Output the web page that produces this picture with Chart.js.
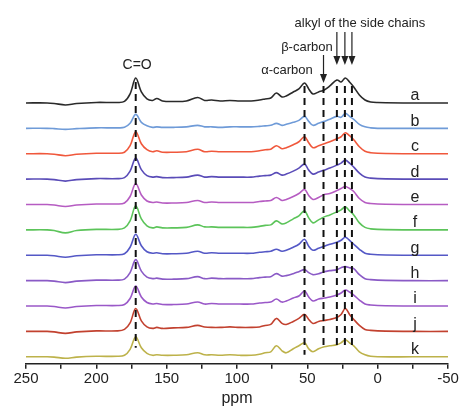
<!DOCTYPE html>
<html>
<head>
<meta charset="utf-8">
<script src="https://cdn.jsdelivr.net/npm/chart.js@4"></script>
<style>
    body { margin: 0; background: #fff; }
    #wrap { width: 460px; height: 410px; }
</style>
</head>
<body>
<div id="wrap"><canvas id="nmr-chart"></canvas></div>
<script>
// chemical shift grid (ppm), shared by every trace
const ppm = [250, 235, 230, 222, 214, 200, 185, 180, 176, 172, 168, 164, 160, 157, 153, 145, 136, 128, 123, 118, 112, 105, 98, 90, 84, 80, 76, 72, 68, 65, 60, 56, 52, 49, 46, 42, 38, 34, 29, 26, 23, 20, 17, 13, 9, 5, 0, -25, -50];

// intensities above each trace's own baseline
const seriesA = [0, 0, -0.5, -2, -0.5, 0.5, 0.5, 1.5, 9, 25, 11, 4, 2.5, 4.5, 2, 1.5, 2, 5.5, 2.5, 3, 2, 2.5, 2, 2, 3, 4, 5, 10, 6, 7, 11, 14, 20, 14, 9, 11, 13, 17, 23, 21, 25, 21, 16, 8, 3, 1, 0.5, 0, 0];
const seriesB = [0, 0, -0.3, -1, -0.3, 0.5, 0.5, 1, 5, 14, 6, 2.5, 1, 1.5, 1, 1, 1.5, 3, 1.5, 1.5, 1, 1.5, 1.5, 1.5, 2, 2.5, 3, 5, 3, 4, 6, 8, 12, 7, 3, 5, 7, 9, 12, 11, 15, 12, 9, 4, 1.5, 0.5, 0, 0, 0];
const seriesC = [0, 0, -0.5, -2, -0.5, 0.5, 0.5, 1.5, 8, 22, 10, 4, 2, 3, 1.5, 1.5, 2, 4.5, 2, 2.5, 2, 2, 2, 2, 3, 4, 4.5, 8, 5, 6, 9, 12, 17, 11, 6, 8, 10, 12, 15, 17, 21, 18, 14, 7, 2.5, 1, 0.5, 0, 0];
const seriesD = [0, 0, -0.5, -2, -0.5, 0.5, 0.5, 1.5, 8, 21, 9.5, 3.5, 2, 2.5, 1.5, 1.5, 2, 4, 2, 2.5, 2, 2, 2, 2, 3, 3.5, 4, 6.5, 4, 5, 8, 11, 15, 9, 5, 7, 9, 11, 14, 16, 19, 16, 12, 6, 2, 1, 0.5, 0, 0];
const seriesE = [0, 0, -0.5, -2, -0.5, 0.5, 0.5, 1.5, 8, 21, 9.5, 3.5, 2, 2.5, 1.5, 1.5, 2, 4, 2, 2.5, 2, 2, 2, 2, 3, 3.5, 4, 7, 4, 5, 8, 11, 15, 9, 5, 7, 10, 11, 14, 16, 18, 16, 13, 6, 2, 1, 0.5, 0, 0];
const seriesF = [0, 0, -0.7, -3, -0.7, 0.5, 0.5, 2, 9, 24, 11, 4, 2, 3, 2, 2, 2.5, 5, 3, 3, 2.5, 2.5, 2.5, 2.5, 3.5, 4.5, 5, 9, 6, 7, 11, 14, 19, 12, 7, 10, 13, 15, 18, 20, 23, 19, 15, 7, 2.5, 1, 0.5, 0, 0];
const seriesG = [0, 0, -0.5, -2, -0.5, 0.5, 0.5, 1.5, 8, 21, 9.5, 3.5, 2, 2.5, 1.5, 1.5, 2, 4, 2, 2.5, 2, 2, 2, 2, 3, 3.5, 4, 6, 4, 5, 8, 11, 16, 9, 5, 7, 9, 11, 13, 15, 18, 15, 11, 6, 2, 1, 0.5, 0, 0];
const seriesH = [0, 0, -0.5, -2, -0.5, 0.5, 0.5, 1.5, 8, 21, 9.5, 3.5, 2, 2.5, 1.5, 1.5, 2, 4, 2, 2.5, 2, 2, 2, 2, 3, 3.5, 4, 7, 4.5, 5, 7, 9, 11, 8, 6, 7, 9, 10, 11, 13, 14, 13, 12, 6, 2, 1, 0.5, 0, 0];
const seriesI = [0, 0, -0.5, -2, -0.5, 0.5, 0.5, 1.5, 7.5, 20, 9, 3.5, 2, 2.5, 1.5, 1.5, 2, 4, 2, 2.5, 2, 2, 2, 2, 3, 3.5, 4, 7, 4, 5, 8, 10, 15, 9, 5, 7, 8, 9, 11, 13, 16, 14, 11, 6, 2, 1, 0.5, 0, 0];
const seriesJ = [0, 0, -0.5, -2, -0.5, 0.5, 0.5, 2, 8.5, 23, 10.5, 4.5, 3, 4, 3, 3.5, 4, 6, 4.5, 4, 4, 4.5, 4, 4, 4.5, 6, 7, 13, 8, 7, 10, 13, 17, 12, 8, 10, 11, 12, 14, 17, 23, 17, 12, 6, 2, 1, 0.5, 0, 0];
const seriesK = [0, 0, -0.3, -1.5, -0.3, 0.5, 0.5, 1.5, 7.5, 20, 9, 3.5, 1.5, 2, 1.5, 1.5, 2, 4, 2, 2, 1.5, 2, 1.5, 1.5, 2.5, 4, 5, 11, 6, 4, 8, 11, 14, 8, 5, 8, 10, 11, 12, 14, 17, 14, 11, 5, 2, 0.5, 0, 0, 0];

const sampleLabels = ['a', 'b', 'c', 'd', 'e', 'f', 'g', 'h', 'i', 'j', 'k'];
const sampleSeries = [seriesA, seriesB, seriesC, seriesD, seriesE, seriesF, seriesG, seriesH, seriesI, seriesJ, seriesK];
const sampleColors = ['#2a2a2a', '#6f9bd8', '#f0583c', '#5a4cb8', '#b65cc2', '#5cc45a', '#5458c6', '#8a5ac6', '#9a58c8', '#c2412f', '#bdb24a'];

// marked peak positions (ppm)
const markerShifts = [172, 52, 38.5, 29, 23.3, 18.3];
const alkylShifts = [29, 23.3, 18.3];
const betaShift = 38.5;

const topBaseline = 261;
const traceGap = 25.4;

const datasets = [];

markerShifts.forEach((shift) => {
    const bottom = shift === 52 ? 9 : 16;
    datasets.push({
        data: [{ x: shift, y: shift === 172 ? 282 : 278 }, { x: shift, y: bottom }],
        borderColor: '#111',
        borderWidth: 2,
        borderDash: [7, 5],
        pointRadius: 0,
        order: 0
    });
});

sampleSeries.forEach((values, i) => {
    const base = topBaseline - i * traceGap;
    datasets.push({
        label: sampleLabels[i],
        data: ppm.map((p, j) => ({ x: p, y: base + values[j] })),
        borderColor: sampleColors[i],
        borderWidth: 1.6,
        pointRadius: 0,
        tension: 0.35,
        order: 1
    });
});

function arrow(ctx, x, y1, y2) {
    ctx.beginPath();
    ctx.moveTo(x, y1);
    ctx.lineTo(x, y2 - 7);
    ctx.stroke();
    ctx.beginPath();
    ctx.moveTo(x - 3.5, y2 - 9);
    ctx.lineTo(x + 3.5, y2 - 9);
    ctx.lineTo(x, y2);
    ctx.closePath();
    ctx.fill();
}

const annotations = {
    id: 'annotations',
    afterDatasetsDraw(chart) {
        const { ctx } = chart;
        const xs = chart.scales.x;
        const ys = chart.scales.y;
        ctx.save();
        ctx.fillStyle = '#222';
        ctx.strokeStyle = '#222';
        ctx.lineWidth = 1.2;
        ctx.textAlign = 'center';
        ctx.textBaseline = 'middle';

        ctx.font = '14px "Liberation Sans", Arial, sans-serif';
        ctx.fillText('C=O', xs.getPixelForValue(171), ys.getPixelForValue(299));
        ctx.font = '13px "Liberation Sans", Arial, sans-serif';
        ctx.fillText('\u03b1-carbon', xs.getPixelForValue(64.5), ys.getPixelForValue(294));
        ctx.fillText('\u03b2-carbon', xs.getPixelForValue(50.3), ys.getPixelForValue(317));
        ctx.fillText('alkyl of the side chains', xs.getPixelForValue(12.6), ys.getPixelForValue(341));

        arrow(ctx, xs.getPixelForValue(betaShift), ys.getPixelForValue(309), ys.getPixelForValue(281));
        alkylShifts.forEach((s) => {
            arrow(ctx, xs.getPixelForValue(s), ys.getPixelForValue(332), ys.getPixelForValue(299));
        });

        ctx.font = '16px "Liberation Sans", Arial, sans-serif';
        sampleLabels.forEach((lab, i) => {
            const base = topBaseline - i * traceGap;
            ctx.fillText(lab, xs.getPixelForValue(-26.5), ys.getPixelForValue(base + 7));
        });
        ctx.restore();
    }
};

new Chart(document.getElementById('nmr-chart'), {
    type: 'line',
    data: { datasets },
    plugins: [annotations],
    options: {
        responsive: true,
        maintainAspectRatio: false,
        animation: false,
        layout: { padding: { left: 26, right: 12, top: 10, bottom: 0 } },
        plugins: {
            legend: { display: false },
            tooltip: { enabled: false }
        },
        scales: {
            x: {
                type: 'linear',
                reverse: true,
                min: -50,
                max: 250,
                grid: {
                    drawOnChartArea: false,
                    drawTicks: true,
                    tickLength: 5,
                    color: '#222',
                    lineWidth: 1.5
                },
                border: { display: true, color: '#222', width: 1.5 },
                ticks: {
                    stepSize: 25,
                    autoSkip: false,
                    maxRotation: 0,
                    padding: 1,
                    color: '#222',
                    font: { family: '"Liberation Sans", Arial, sans-serif', size: 15 },
                    callback: (v) => (v % 50 === 0 ? v : '')
                },
                title: {
                    display: true,
                    text: 'ppm',
                    color: '#222',
                    padding: { top: 0, bottom: 2 },
                    font: { family: '"Liberation Sans", Arial, sans-serif', size: 16 }
                }
            },
            y: {
                display: false,
                min: 0,
                max: 354
            }
        }
    }
});
</script>
</body>
</html>
